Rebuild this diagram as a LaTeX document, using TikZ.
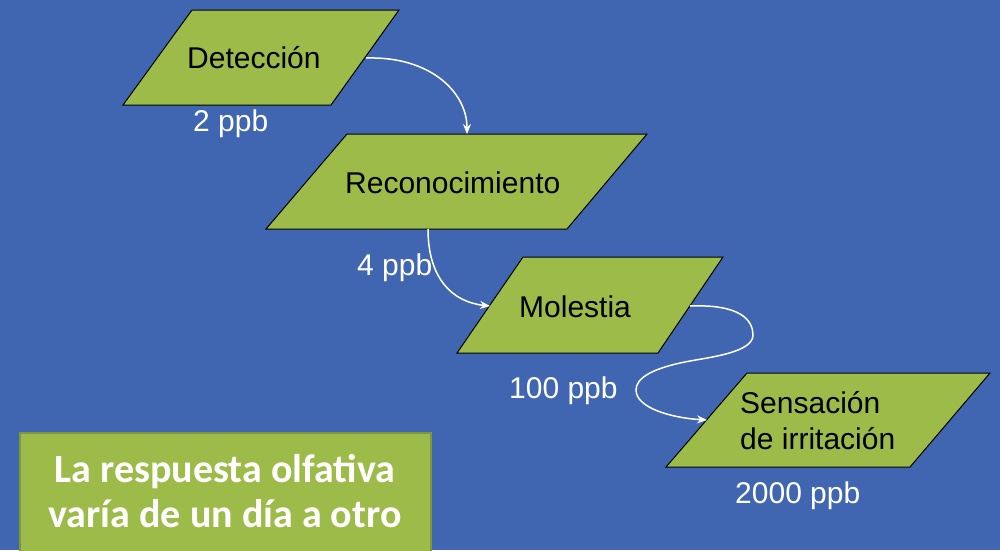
\documentclass[tikz,border=0pt]{standalone}
\usepackage{fontspec}
\setmainfont{Liberation Sans}
\newfontfamily\calibri{Carlito}
\usetikzlibrary{arrows.meta}
\definecolor{slideblue}{RGB}{64,102,178}
\definecolor{olive}{RGB}{157,187,72}
\definecolor{olivedark}{RGB}{125,152,60}
\tikzset{
  para/.style={fill=olive, draw=black, line width=1pt, line join=miter},
  lbl/.style={anchor=base west, inner sep=0pt, font=\fontsize{30}{36}\selectfont},
  wlbl/.style={lbl, text=white},
  conn/.style={draw=white, line width=1.5pt, -{Stealth[length=10pt,width=8pt]}},
}
\begin{document}
\begin{tikzpicture}[x=1pt,y=-1pt]
\useasboundingbox (0,0) rectangle (1000,550);
\fill[slideblue] (0,0) rectangle (1000,550);
% parallelograms
\draw[para] (192,10) -- (399,10) -- (331,105) -- (123,105) -- cycle;
\draw[para] (347,134) -- (647,134) -- (567,229) -- (266,229) -- cycle;
\draw[para] (523,257) -- (723,257) -- (658,353) -- (457,353) -- cycle;
\draw[para] (747,373) -- (990,373) -- (910,467) -- (666,467) -- cycle;
% text nodes
\node[lbl] (det) at (187,68) {Detección};
\node[lbl] (rec) at (345,193) {Reconocimiento};
\node[lbl] (mol) at (519,317) {Molestia};
\node[lbl, align=left] (sen) at (740,449) {Sensación\\de irritación};
% value labels
\node[wlbl] (l1) at (193,131) {2 ppb};
\node[wlbl] (l2) at (357,275) {4 ppb};
\node[wlbl] (l3) at (509,398) {100 ppb};
\node[wlbl] (l4) at (735,503) {2000 ppb};
% connector anchor coordinates
\coordinate (detR) at (366,58);
\coordinate (recT) at (467,134);
\coordinate (recB) at (428,229);
\coordinate (molL) at (490,306);
\coordinate (molR) at (690,306);
\coordinate (senL) at (707,420);
\draw[conn] (detR) .. controls (430,56) and (467,92) .. (recT);
\draw[conn] (recB) .. controls (428,278) and (452,302) .. (molL);
\draw[conn] (molR) .. controls (740,304) and (753,320) .. (753,335)
  .. controls (753,352) and (712,357) .. (690,361)
  .. controls (652,368) and (636,378) .. (636,390)
  .. controls (636,408) and (672,418) .. (senL);
% bottom box
\node[draw=olivedark, line width=2pt, fill=olive, minimum width=411pt, minimum height=140pt, anchor=north west, inner sep=0pt] (box) at (19,432) {};
\node[text=white, font=\calibri\bfseries\fontsize{40}{45}\selectfont, align=center, anchor=base, inner sep=0pt] (msg) at (225,527) {La respuesta olfativa\\varía de un día a otro};
\end{tikzpicture}
\end{document}
